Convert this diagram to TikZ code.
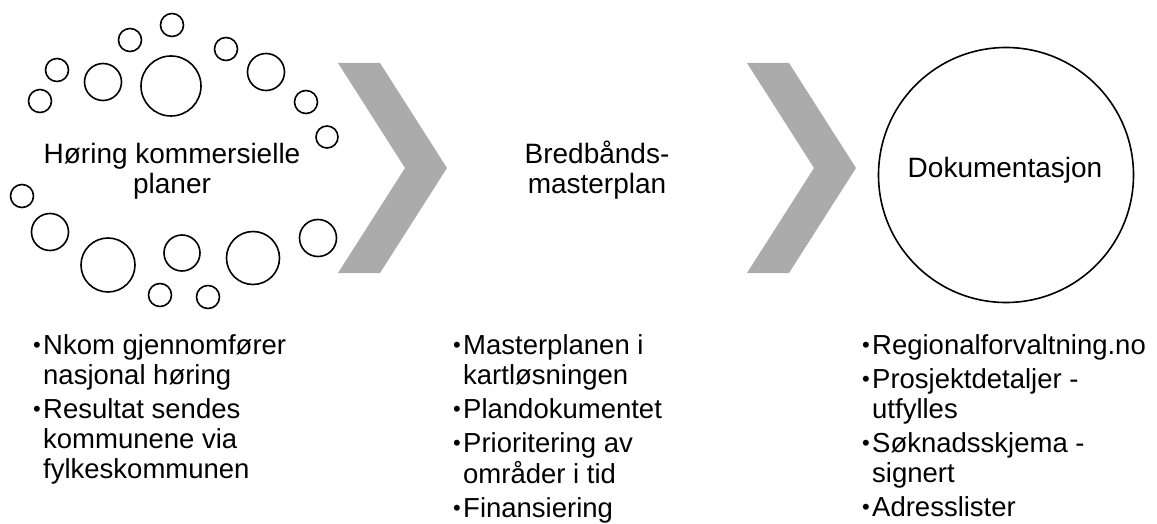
\documentclass[tikz,border=0pt]{standalone}
\usepackage{fontspec}
\setmainfont{Liberation Sans}
\usepackage{graphicx}
\newcommand{\pkt}{\makebox[10pt][l]{\raisebox{0.06em}{\scalebox{0.8}{\textbullet}}}}
\tikzset{
	bobbel/.style={draw, circle, line width=1.6pt, inner sep=0pt},
	pil/.style={fill=black!33},
	tittel/.style={align=center, font=\fontsize{28}{30}\selectfont},
	liste/.style={anchor=north west, inner sep=0pt, font=\fontsize{27.5}{30}\selectfont}
}

\begin{document}
\begin{tikzpicture}[x=1pt, y=-1pt]
	\useasboundingbox (0,0) rectangle (1157,524);
	
	% Bobler rundt hoeringen
	\foreach \x/\y/\r [count=\i] in {172/25/11.5, 130/40/11.5, 57/70/11.5, 40/101/11.5, 103/82/18.5, 171/86/30, 226/49/11.5, 266/72/18.5, 306/102/11.5, 327/137/11, 22/196/11.5, 50/232/18.5, 108/265/27, 182/253/18, 160/295/11.5, 208/297/11.5, 253/258/26.5, 318/238/18.5}
		\node (bobbel\i) [bobbel, minimum size=2*\r] at (\x,\y) {};
	
	\node (horing) [tittel] at (172,171) {Høring kommersielle\\planer};
	\node (bredband) [tittel] at (597,170) {Bredbånds-\\masterplan};
	\node (dokring) [bobbel, minimum size=255] at (1006,175) {};
	\node (dok) [tittel, anchor=base] at (1005,178) {Dokumentasjon};
	
	% Piler
	\foreach \dx in {0,409}
		\fill[pil, xshift=\dx] (338,63) -- (380,63) -- (447,168) -- (380,273) -- (338,273) -- (405,168) -- cycle;
	
	% Punktlister
	\node (liste1) [liste] at (33,333) {\begin{tabular}{@{}l@{}l@{}}
		\pkt & Nkom gjennomfører\\
		& nasjonal høring\\[4pt]
		\pkt & Resultat sendes\\
		& kommunene via\\
		& fylkeskommunen
	\end{tabular}};
	\node (liste2) [liste] at (453,333) {\begin{tabular}{@{}l@{}l@{}}
		\pkt & Masterplanen i\\
		& kartløsningen\\[4pt]
		\pkt & Plandokumentet\\[4pt]
		\pkt & Prioritering av\\
		& områder i tid\\[4pt]
		\pkt & Finansiering
	\end{tabular}};
	\node (liste3) [liste] at (862,333) {\begin{tabular}{@{}l@{}l@{}}
		\pkt & Regionalforvaltning.no\\[4pt]
		\pkt & Prosjektdetaljer -\\
		& utfylles\\[4pt]
		\pkt & Søknadsskjema -\\
		& signert\\[4pt]
		\pkt & Adresslister
	\end{tabular}};
\end{tikzpicture}
\end{document}
